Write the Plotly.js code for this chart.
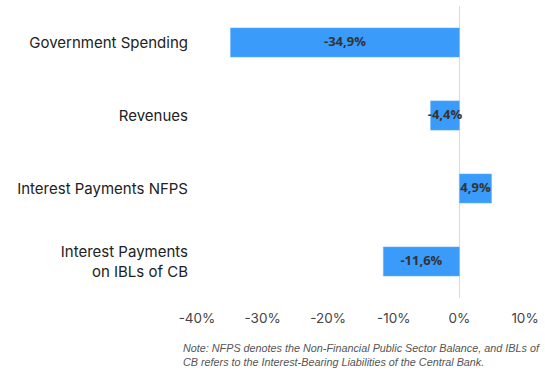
<!DOCTYPE html>
<html><head><meta charset="utf-8">
<script src="https://cdn.plot.ly/plotly-3.0.1.min.js"></script>
<style>html,body{margin:0;padding:0;background:#fff}#c{width:545px;height:376px}</style>
</head><body><div id="c"></div>
<script>
const categories = ["Government Spending", "Revenues", "Interest Payments NFPS", "Interest Payments<br>on IBLs of CB"];
const values = [-34.9, -4.4, 4.9, -11.6];
const valueLabels = ["-34,9%", "-4,4%", "4,9%", "-11,6%"];
const tickVals = [-40, -30, -20, -10, 0, 10];
const tickText = ["-40%", "-30%", "-20%", "-10%", "0%", "10%"];
const noteText = "Note: NFPS denotes the Non-Financial Public Sector Balance, and IBLs of<br>CB refers to the Interest-Bearing Liabilities of the Central Bank.";

const bars = {
  type: "bar", orientation: "h", x: values, y: categories,
  marker: {color: "#3A9BFB", line: {color: "#6AB4FC", width: 0.5}},
  width: 0.4, hoverinfo: "skip", textposition: "none"
};
const labels = {
  type: "scatter", mode: "text", x: values.map(v => v / 2), y: categories,
  text: valueLabels, textposition: "middle center",
  textfont: {family: "Open Sans, Noto Sans, sans-serif", size: 13, color: "#333", weight: 700},
  hoverinfo: "skip", cliponaxis: false
};
const layout = {
  width: 545, height: 376,
  margin: {l: 197, r: 20, t: 6, b: 78},
  showlegend: false,
  paper_bgcolor: "#fff", plot_bgcolor: "#fff",
  font: {family: "Inter, Noto Sans, sans-serif"},
  xaxis: {range: [-40, 10], tickvals: tickVals, ticktext: tickText, showgrid: false,
    zeroline: true, zerolinecolor: "#d9d9d9", zerolinewidth: 1.5, showline: false, ticks: "",
    ticklabelstandoff: 10, tickfont: {size: 13.5, color: "#444"}, fixedrange: true},
  yaxis: {autorange: "reversed", showgrid: false, zeroline: false, showline: false, ticks: "",
    ticklabelstandoff: 8, tickfont: {size: 15, color: "#222"}, fixedrange: true},
  annotations: [{xref: "paper", yref: "paper", x: -0.05, y: -0.145, xanchor: "left", yanchor: "top",
    align: "left", showarrow: false, text: "<i>" + noteText + "</i>",
    font: {family: "Liberation Sans, Arial, sans-serif", size: 10.8, color: "#555"}}]
};
Plotly.newPlot("c", [bars, labels], layout, {displayModeBar: false, staticPlot: true});
</script></body></html>
